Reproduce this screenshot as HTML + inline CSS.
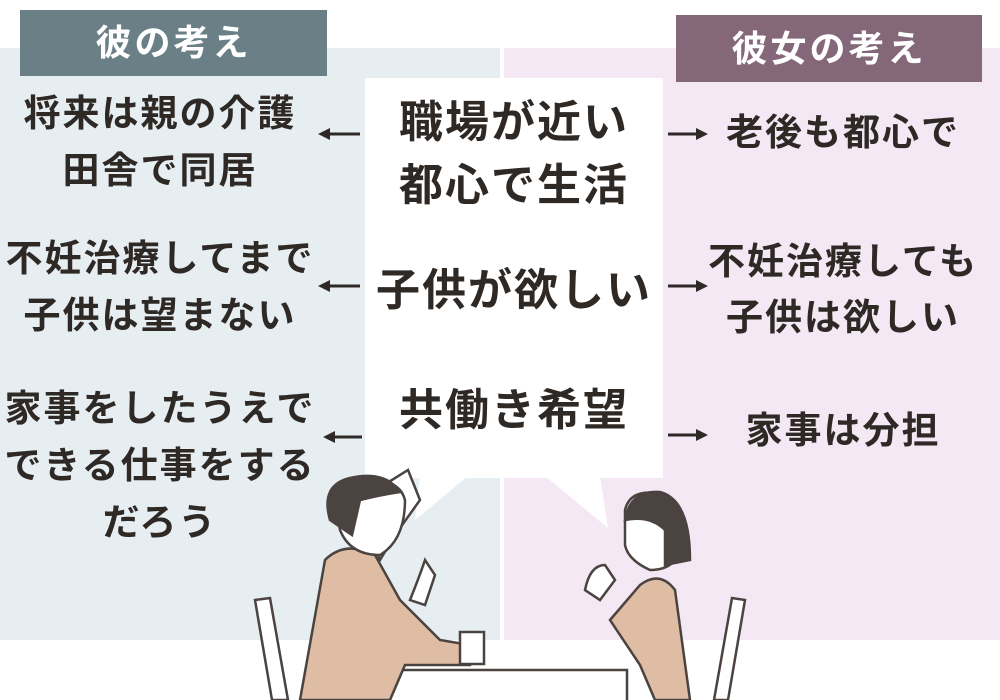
<!DOCTYPE html>
<html><head><meta charset="utf-8"><style>
body{margin:0;width:1000px;height:700px;position:relative;overflow:hidden;background:#fff;font-family:"Liberation Sans","Noto Sans CJK JP",sans-serif;font-weight:bold;color:#2f2926}
.a{position:absolute}
.t{position:absolute;text-align:center;font-size:37px;line-height:57px;letter-spacing:2px;white-space:nowrap}
.c{font-size:44px;line-height:63px;letter-spacing:2px}
</style></head><body>
<div class="a" style="left:0;top:48px;width:500px;height:592px;background:#e7eef2"></div>
<div class="a" style="left:504px;top:48px;width:496px;height:592px;background:#f3e8f4"></div>
<div class="a" style="left:20px;top:10px;width:307px;height:66px;background:#6b7f87;color:#fff;font-size:36px;letter-spacing:3px;line-height:66px;text-align:center">彼の考え</div>
<div class="a" style="left:676px;top:15px;width:306px;height:67px;background:#84687a;color:#fff;font-size:36px;letter-spacing:3px;line-height:67px;text-align:center">彼女の考え</div>
<svg class="a" style="left:0;top:0" width="1000" height="700">
<rect x="365" y="78" width="298" height="400" fill="#fff"/>
<polygon points="420,476 468,476 415,520" fill="#fff"/>
<polygon points="545,476 600,476 608,528" fill="#fff"/>
<g stroke="#2f2926" stroke-width="3" fill="#2f2926">
<line x1="325" y1="134" x2="360" y2="134"/><polygon points="318,134 330,128 330,140" stroke="none"/>
<line x1="325" y1="286" x2="360" y2="286"/><polygon points="318,286 330,280 330,292" stroke="none"/>
<line x1="330" y1="437" x2="362" y2="437"/><polygon points="323,437 335,431 335,443" stroke="none"/>
<line x1="668" y1="134" x2="700" y2="134"/><polygon points="708,134 696,128 696,140" stroke="none"/>
<line x1="668" y1="286" x2="700" y2="286"/><polygon points="708,286 696,280 696,292" stroke="none"/>
<line x1="668" y1="435" x2="700" y2="435"/><polygon points="708,435 696,429 696,441" stroke="none"/>
</g>
<g stroke="#4a4340" stroke-width="2.5">
<path d="M255,600 L270,598 L288,700 L272,700 Z" fill="#fff"/>
<path d="M745,600 L732,598 L714,700 L728,700 Z" fill="#fff"/>
<rect x="375" y="670" width="252" height="40" fill="#fff"/>
<path d="M300,700 L325,560 Q345,540 375,555 L400,600 L440,640 L470,645 L470,665 L405,665 L390,700 Z" fill="#dfbca4"/>
<path d="M380,560 L395,535 L420,500 Q412,480 408,470 L360,500 Z" fill="#fff"/>
<path d="M335,500 Q340,475 370,480 Q400,480 405,500 Q405,540 380,555 Q350,555 340,530 Z" fill="#fff"/>
<path d="M330,520 Q320,485 350,478 Q385,470 400,492 Q380,495 360,500 L352,535 Z" fill="#4a4340"/>
<path d="M410,600 Q420,575 425,560 L435,575 L425,605 Z" fill="#fff"/>
<rect x="460" y="632" width="24" height="32" fill="#fff"/>
<path d="M690,700 L675,590 Q660,570 640,585 L610,620 L640,665 L655,700 Z" fill="#dfbca4"/>
<path d="M625,510 Q630,490 655,493 Q680,500 680,540 Q680,570 650,570 Q628,560 625,545 Z" fill="#fff"/>
<path d="M625,520 Q630,490 660,492 Q690,500 690,560 L665,565 L665,530 Q650,515 625,520 Z" fill="#4a4340"/>
<path d="M585,590 Q590,565 605,565 L615,580 L600,600 Z" fill="#fff"/>
</g>
</svg>
<div class="t" style="left:0;top:85px;width:320px">将来は親の介護<br>田舎で同居</div>
<div class="t" style="left:0;top:230px;width:320px">不妊治療してまで<br>子供は望まない</div>
<div class="t" style="left:0;top:380px;width:320px">家事をしたうえで<br>できる仕事をする<br>だろう</div>
<div class="t c" style="left:365px;top:91px;width:298px">職場が近い<br>都心で生活</div>
<div class="t c" style="left:365px;top:259px;width:298px">子供が欲しい</div>
<div class="t c" style="left:365px;top:379px;width:298px">共働き希望</div>
<div class="t" style="left:703px;top:104px;width:280px">老後も都心で</div>
<div class="t" style="left:703px;top:234px;width:280px;line-height:56px">不妊治療しても<br>子供は欲しい</div>
<div class="t" style="left:703px;top:402px;width:280px">家事は分担</div>
</body></html>
